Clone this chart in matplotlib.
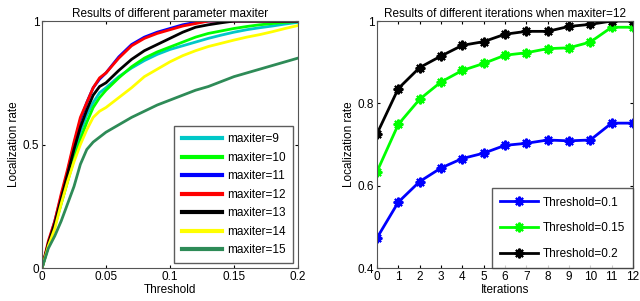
import matplotlib
matplotlib.use('Agg')
import matplotlib.pyplot as plt

plt.rcParams['font.family'] = ['Liberation Sans', 'DejaVu Sans']

# left panel: localization rate vs threshold for each maxiter
threshold = [0, 0.005, 0.01, 0.015, 0.02, 0.025, 0.03, 0.035, 0.04, 0.045, 0.05,
             0.06, 0.07, 0.08, 0.09, 0.1, 0.11, 0.12, 0.13, 0.14, 0.15, 0.16,
             0.17, 0.18, 0.19, 0.2]
maxiter9 = [0, 0.09, 0.17, 0.27, 0.36, 0.46, 0.55, 0.62, 0.67, 0.71, 0.73, 0.775,
            0.81, 0.84, 0.865, 0.885, 0.90, 0.915, 0.93, 0.943, 0.955, 0.965,
            0.973, 0.98, 0.988, 0.995]
maxiter10 = [0, 0.09, 0.17, 0.26, 0.35, 0.44, 0.52, 0.59, 0.65, 0.69, 0.72, 0.77,
             0.815, 0.85, 0.875, 0.895, 0.915, 0.935, 0.95, 0.96, 0.97, 0.978,
             0.985, 0.99, 0.995, 0.998]
maxiter11 = [0, 0.10, 0.19, 0.29, 0.39, 0.50, 0.60, 0.67, 0.73, 0.765, 0.79, 0.855,
             0.905, 0.935, 0.955, 0.97, 0.985, 0.995, 1, 1, 1, 1, 1, 1, 1, 1]
maxiter12 = [0, 0.11, 0.19, 0.30, 0.40, 0.51, 0.61, 0.67, 0.73, 0.77, 0.79, 0.85,
             0.90, 0.93, 0.95, 0.965, 0.98, 0.99, 1, 1, 1, 1, 1, 1, 1, 1]
maxiter13 = [0, 0.10, 0.18, 0.28, 0.38, 0.48, 0.57, 0.64, 0.70, 0.735, 0.75, 0.80,
             0.845, 0.88, 0.905, 0.93, 0.955, 0.975, 0.985, 0.993, 1, 1, 1, 1, 1, 1]
maxiter14 = [0, 0.09, 0.16, 0.26, 0.35, 0.43, 0.50, 0.56, 0.61, 0.635, 0.65, 0.69,
             0.73, 0.775, 0.805, 0.835, 0.86, 0.88, 0.897, 0.91, 0.923, 0.935,
             0.945, 0.957, 0.97, 0.982]
maxiter15 = [0, 0.08, 0.13, 0.19, 0.26, 0.33, 0.42, 0.48, 0.51, 0.53, 0.55, 0.58,
             0.61, 0.635, 0.66, 0.68, 0.70, 0.72, 0.735, 0.755, 0.775, 0.79,
             0.805, 0.82, 0.835, 0.85]

# right panel: localization rate vs iterations (maxiter=12)
iterations = [0, 1, 2, 3, 4, 5, 6, 7, 8, 9, 10, 11, 12]
thr_01 = [0.473, 0.56, 0.61, 0.643, 0.666, 0.679, 0.698, 0.703, 0.711, 0.709,
          0.711, 0.752, 0.752]
thr_015 = [0.634, 0.749, 0.81, 0.852, 0.88, 0.897, 0.917, 0.923, 0.933, 0.935,
           0.949, 0.985, 0.985]
thr_02 = [0.726, 0.836, 0.887, 0.915, 0.941, 0.95, 0.968, 0.975, 0.975, 0.987,
          0.992, 1.0, 1.0]

fs = 8.5
fig = plt.figure(figsize=(6.4, 3.01), dpi=100)
ax1 = fig.add_axes([0.0656, 0.1096, 0.4, 0.8204])
ax2 = fig.add_axes([0.589, 0.1096, 0.4, 0.8204])

curves = [(maxiter9, '#00c8c8', 'maxiter=9'), (maxiter10, '#00ff00', 'maxiter=10'),
          (maxiter11, '#0000ff', 'maxiter=11'), (maxiter12, '#ff0000', 'maxiter=12'),
          (maxiter13, '#000000', 'maxiter=13'), (maxiter14, '#ffff00', 'maxiter=14'),
          (maxiter15, '#2e8b57', 'maxiter=15')]
for vals, col, lab in curves:
    ax1.plot(threshold, vals, color=col, lw=2, label=lab)
ax1.set_xlim(0, 0.2)
ax1.set_ylim(0, 1)
ax1.set_xticks([0, 0.05, 0.1, 0.15, 0.2])
ax1.set_xticklabels(['0', '0.05', '0.1', '0.15', '0.2'])
ax1.set_yticks([0, 0.5, 1])
ax1.set_yticklabels(['0', '0.5', '1'])
ax1.set_title('Results of different parameter maxiter', fontsize=fs, pad=3)
ax1.set_xlabel('Threshold', fontsize=fs, labelpad=1)
ax1.set_ylabel('Localization rate', fontsize=fs, labelpad=2)
leg1 = ax1.legend(loc='lower right', fontsize=fs, fancybox=False, edgecolor='#333333',
                  borderaxespad=0.4, handlelength=3.4, labelspacing=0.55, borderpad=0.6,
                  handletextpad=0.5)
for l in leg1.get_lines():
    l.set_linewidth(3)

ser = [(thr_01, '#0000ff', 'Threshold=0.1'), (thr_015, '#00ff00', 'Threshold=0.15'),
       (thr_02, '#000000', 'Threshold=0.2')]
for vals, col, lab in ser:
    ax2.plot(iterations, vals, color=col, lw=2, marker=(8, 2, 0), ms=7, mew=1.5, label=lab)
ax2.set_xlim(0, 12)
ax2.set_ylim(0.4, 1)
ax2.set_xticks(iterations)
ax2.set_yticks([0.4, 0.6, 0.8, 1])
ax2.set_yticklabels(['0.4', '0.6', '0.8', '1'])
ax2.set_title('Results of different iterations when maxiter=12', fontsize=fs, pad=3)
ax2.set_xlabel('Iterations', fontsize=fs, labelpad=1)
ax2.set_ylabel('Localization rate', fontsize=fs, labelpad=2)
ax2.legend(loc='lower right', fontsize=fs, fancybox=False, edgecolor='#333333',
           borderaxespad=0, handlelength=3.2, labelspacing=1.15, borderpad=0.7,
           handletextpad=0.35)

for ax in (ax1, ax2):
    ax.tick_params(direction='in', length=2, labelsize=fs, top=True, right=True, pad=2)
    for s in ax.spines.values():
        s.set_color('#555555')
        s.set_linewidth(0.8)

fig.savefig('out.png', dpi=100)
